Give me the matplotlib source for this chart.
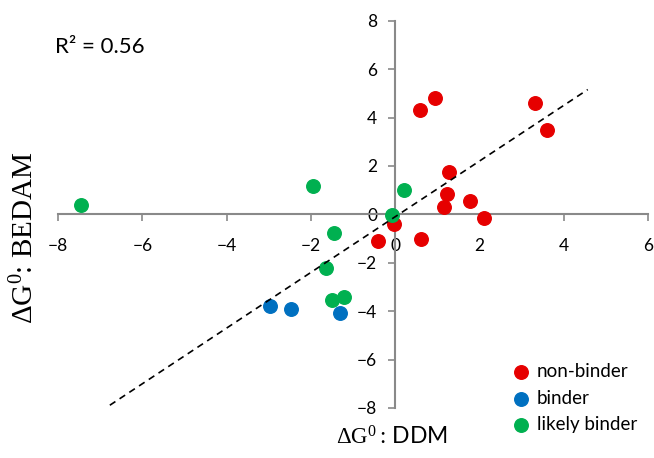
import matplotlib
matplotlib.use("Agg")
import matplotlib.pyplot as plt

plt.rcParams["mathtext.fontset"] = "custom"
plt.rcParams["mathtext.rm"] = "Liberation Serif"
plt.rcParams["mathtext.it"] = "Liberation Serif:italic"

non_binder_x = [-0.41, -0.03, 0.61, 0.58, 0.95, 1.28, 1.22, 1.16, 1.78, 2.11, 3.33, 3.61]
non_binder_y = [-1.09, -0.41, -1.01, 4.30, 4.81, 1.76, 0.84, 0.30, 0.56, -0.14, 4.61, 3.48]
binder_x = [-2.97, -2.48, -1.30]
binder_y = [-3.80, -3.89, -4.09]
likely_x = [-7.45, -1.94, -1.46, -0.08, 0.20, -1.64, -1.50, -1.21]
likely_y = [0.38, 1.18, -0.76, -0.04, 1.00, -2.23, -3.54, -3.40]

fit_slope = 1.15
fit_intercept = -0.10
fit_xrange = [-6.77, 4.57]

xticks = [-8, -6, -4, -2, 0, 2, 4, 6]
yticks = [-8, -6, -4, -2, 0, 2, 4, 6, 8]

gray = "#898989"

fig = plt.figure(figsize=(6.54, 4.58), dpi=100)
ax = fig.add_axes([58 / 654, 1 - 408 / 458, 590 / 654, 387.3 / 458])
ax.set_xlim(-8, 6)
ax.set_ylim(-8, 8)

ax.scatter(non_binder_x, non_binder_y, s=95, color="#E60000", label="non-binder", zorder=3)
ax.scatter(binder_x, binder_y, s=95, color="#0070C0", label="binder", zorder=3)
ax.scatter(likely_x, likely_y, s=95, color="#00B050", label="likely binder", zorder=3)

fx = fit_xrange
fy = [fit_slope * v + fit_intercept for v in fx]
ax.plot(fx, fy, color="black", linestyle=(0, (4, 3)), linewidth=1.2, zorder=4)

for s in ["top", "right"]:
    ax.spines[s].set_visible(False)
ax.spines["left"].set_position(("data", 0))
ax.spines["bottom"].set_position(("data", 0))
for s in ["left", "bottom"]:
    ax.spines[s].set_color(gray)
    ax.spines[s].set_linewidth(1.5)

ax.set_xticks(xticks)
ax.set_yticks(yticks)
ax.tick_params(axis="both", direction="out", length=5, width=1.2, color=gray,
               labelsize=12.5, labelcolor="black")
ax.tick_params(axis="x", pad=12)
ax.tick_params(axis="y", pad=8)
for lab in ax.get_xticklabels() + ax.get_yticklabels():
    lab.set_fontfamily("Lato")

ax.text(-8.08, 6.9, "R² = 0.56", fontsize=16, fontfamily="Lato", va="center", ha="left")

fig.text(392 / 654, 1 - 437 / 458, r"$\mathrm{\Delta G^{0}:}\,$DDM", fontsize=16.5,
         fontfamily="Lato", ha="center", va="center")
fig.text(25 / 654, 1 - 238 / 458, r"$\mathrm{\Delta G^{0}}$: BEDAM", fontsize=21,
         fontfamily="Liberation Serif", ha="center", va="center", rotation=90)

leg = ax.legend(loc="upper left", bbox_to_anchor=(500 / 654, 1 - 354 / 458),
                bbox_transform=fig.transFigure, frameon=False,
                handletextpad=0.25, labelspacing=0.5, borderpad=0, handlelength=1.2,
                prop={"family": "Lato", "size": 13.5})

fig.savefig("out.png", dpi=100)
